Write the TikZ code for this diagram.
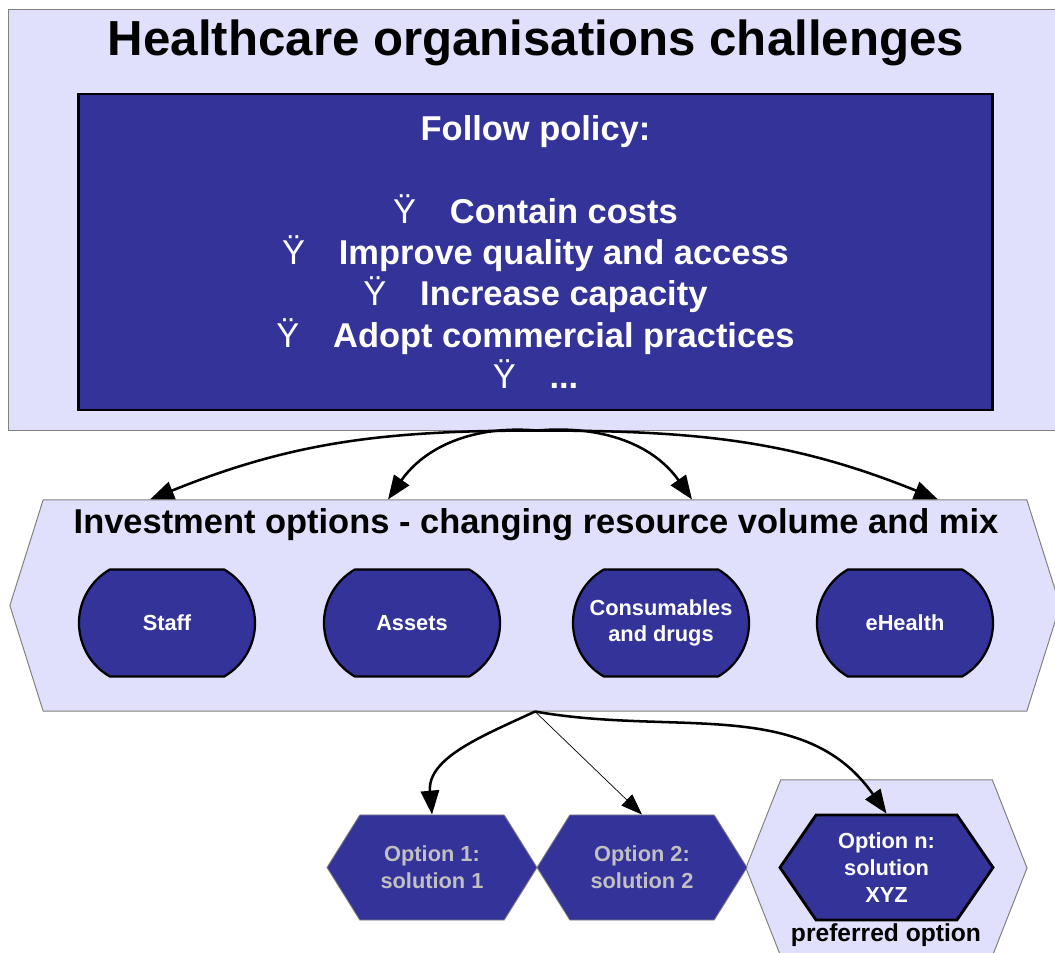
\documentclass[tikz,border=0pt]{standalone}
\usepackage{fontspec}
\setmainfont{Liberation Sans}
\usetikzlibrary{shapes.symbols, shapes.misc, arrows.meta, calc}
\definecolor{lila}{HTML}{E0E0FC}
\definecolor{indigo}{HTML}{333399}
\definecolor{gristexto}{HTML}{C0C0C0}
\definecolor{borde}{HTML}{808080}
\newcommand{\vineta}{{\mdseries Ÿ}\hspace{24pt}}
\tikzset{
  marco/.style={rectangle, draw=borde, line width=0.7pt, fill=lila},
  politica/.style={rectangle, draw=black, line width=2pt, fill=indigo, text=white,
                   font=\fontsize{24.5}{29.5}\selectfont\bfseries, align=center},
  recurso/.style={rounded rectangle, rounded rectangle arc length=120, draw=black, line width=1.6pt,
                  fill=indigo, text=white, font=\fontsize{15.5}{19}\selectfont\bfseries, align=center,
                  minimum width=4.4cm, minimum height=2.675cm, inner sep=0pt},
  opcion/.style={signal, signal to=east and west, signal pointer angle=116, draw=borde, line width=0.6pt,
                 fill=indigo, text=gristexto, font=\fontsize{15.5}{19}\selectfont\bfseries, align=center,
                 minimum width=5.25cm, minimum height=2.625cm, inner sep=0pt},
  flecha/.style={line width=1.8pt, -{Triangle[length=17pt, width=13pt]}},
  flechafina/.style={line width=0.5pt, -{Triangle[length=15pt, width=11pt]}}
}
\begin{document}
\begin{tikzpicture}[x=0.025cm, y=0.025cm]
  \clip (0,0) rectangle (1055,-953);
  % retos y politica
  \node (retos) [marco, minimum width=26.4cm, minimum height=10.5cm] at (537,-220) {};
  \node (titulo) [font=\fontsize{35}{42}\selectfont\bfseries] at (536,-43) {Healthcare organisations challenges};
  \node (politica) [politica, minimum width=22.825cm, minimum height=7.9cm] at (535.5,-252)
    {Follow policy:\\[29.5pt]
     \vineta Contain costs\\
     \vineta Improve quality and access\\
     \vineta Increase capacity\\
     \vineta Adopt commercial practices\\
     \vineta ...};
  % opciones de inversion
  \node (inversion) [marco, signal, signal to=east and west, signal pointer angle=145,
                     minimum width=26.25cm, minimum height=5.275cm] at (535,-605.5) {};
  \node (titinv) [font=\fontsize{24.5}{29.5}\selectfont\bfseries] at (536,-525)
    {Investment options - changing resource volume and mix};
  \node (staff) [recurso] at (167,-623) {Staff};
  \node (assets) [recurso] at (412,-623) {Assets};
  \node (consum) [recurso] at (661,-623) {Consumables\\ and drugs};
  \node (ehealth) [recurso] at (905,-623) {eHealth};
  \draw [flecha] (retos.south) to[out=180, in=22] ($(inversion.north)+(-385,0)$);
  \draw [flecha] (retos.south) to[out=175, in=55] ($(inversion.north)+(-147,0)$);
  \draw [flecha] (retos.south) to[out=5, in=125] ($(inversion.north)+(157,0)$);
  \draw [flecha] (retos.south) to[out=0, in=158] ($(inversion.north)+(403,0)$);
  % soluciones
  \node (preferida) [marco, signal, signal to=east and west, signal pointer angle=137,
                     minimum width=7.025cm, minimum height=4.4cm] at (886.5,-868) {};
  \node (op1) [opcion] at (432,-867.5) {Option 1:\\ solution 1};
  \node (op2) [opcion] at (642,-867.5) {Option 2:\\ solution 2};
  \node (opn) [opcion, signal pointer angle=111, minimum width=5.325cm, draw=black, line width=2pt,
               text=white] at (886.5,-867.5) {Option n:\\ solution\\ XYZ};
  \node (pref) [font=\fontsize{17.5}{21}\selectfont\bfseries] at (886,-935) {preferred option};
  \draw [flecha] (inversion.south) to[out=205, in=95] (op1.north);
  \draw [flechafina] (inversion.south) -- (op2.north);
  \draw [flecha] (inversion.south) to[out=-10, in=125] (opn.north);
\end{tikzpicture}
\end{document}
